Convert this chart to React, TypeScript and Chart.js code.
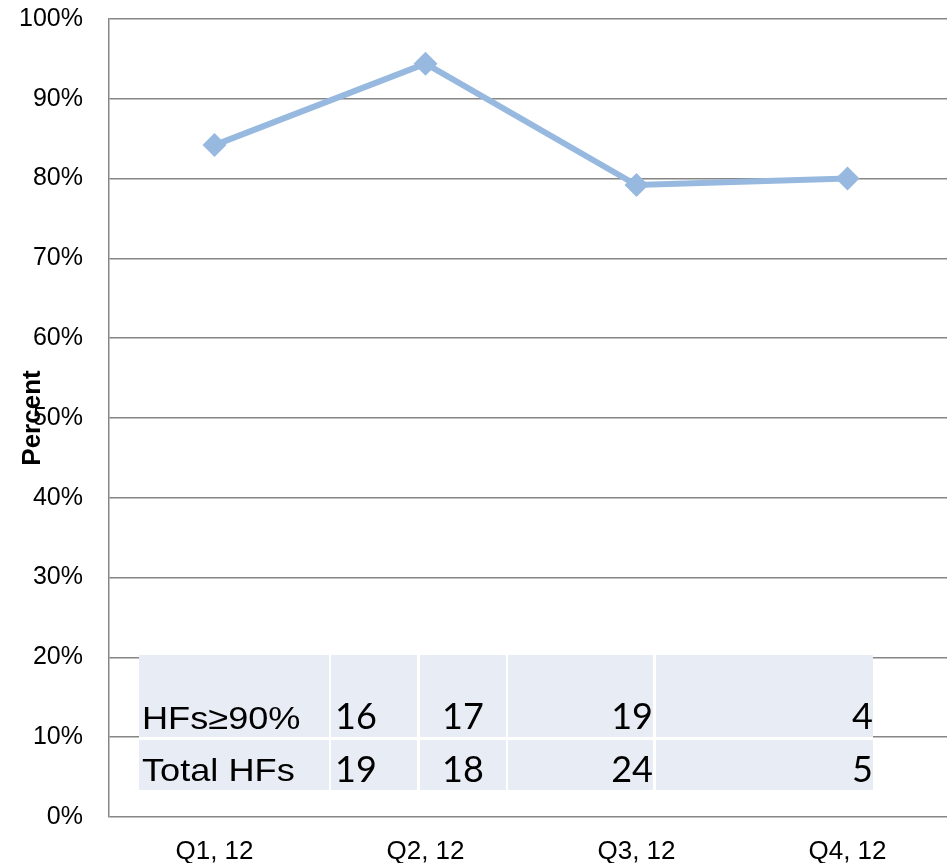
import React, { useEffect, useRef } from "react";
import { Chart, registerables } from "chart.js";

Chart.register(...registerables);

const categories = ["Q1, 12", "Q2, 12", "Q3, 12", "Q4, 12"];
const percentValues = [84.2, 94.4, 79.2, 80.0];
const rowLabels = ["HFs≥90%", "Total HFs"];
const hfsAbove90 = [16, 17, 19, 4];
const totalHfs = [19, 18, 24, 5];
const yTickValues = [0, 10, 20, 30, 40, 50, 60, 70, 80, 90, 100];

const LINE_COLOR = "#97B9E0";
const GRID_COLOR = "#858585";
const TABLE_BG = "#E8ECF4";

// table layout (pixels on canvas)
const TABLE_COLS: { x0: number; x1: number; align: "left" | "center" | "right" }[] = [
  { x0: 139, x1: 329, align: "left" },
  { x0: 331, x1: 417, align: "left" },
  { x0: 420, x1: 506, align: "center" },
  { x0: 508, x1: 653, align: "right" },
  { x0: 656, x1: 873, align: "right" },
];
const TABLE_ROWS = [
  { y0: 655, y1: 737, labelBase: 729, numBase: 729 },
  { y0: 740, y1: 790, labelBase: 781, numBase: 782 },
];

const tablePlugin = {
  id: "dataTable",
  afterDatasetsDraw(chart: any) {
    const ctx = chart.ctx as CanvasRenderingContext2D;
    ctx.save();
    const rowsData = [hfsAbove90, totalHfs];
    // white backdrop so gaps between cells are white
    const tx0 = TABLE_COLS[0].x0;
    const tx1 = TABLE_COLS[TABLE_COLS.length - 1].x1;
    const ty0 = TABLE_ROWS[0].y0;
    const ty1 = TABLE_ROWS[TABLE_ROWS.length - 1].y1;
    ctx.fillStyle = "#fff";
    ctx.fillRect(tx0, ty0, tx1 - tx0, ty1 - ty0);
    TABLE_ROWS.forEach((row, ri) => {
      TABLE_COLS.forEach((col) => {
        ctx.fillStyle = TABLE_BG;
        ctx.fillRect(col.x0, row.y0, col.x1 - col.x0, row.y1 - row.y0);
      });
      // label (slightly stretched horizontally like the original)
      ctx.fillStyle = "#000";
      ctx.font = "32px 'Liberation Sans', Arial, sans-serif";
      ctx.textAlign = "left";
      ctx.textBaseline = "alphabetic";
      ctx.save();
      ctx.translate(TABLE_COLS[0].x0 + 3, row.labelBase);
      ctx.scale(1.13, 1);
      ctx.fillText(rowLabels[ri], 0, 0);
      ctx.restore();
      ctx.font = "36px Lato, 'Noto Sans', sans-serif";
      rowsData[ri].forEach((v, ci) => {
        const col = TABLE_COLS[ci + 1];
        let x = col.x0 + 4;
        if (col.align === "center") x = (col.x0 + col.x1) / 2;
        if (col.align === "right") x = col.x1;
        ctx.textAlign = col.align;
        ctx.fillText(String(v), x, row.numBase);
      });
    });
    ctx.restore();
  },
};

export default function App() {
  const canvasRef = useRef<HTMLCanvasElement | null>(null);

  useEffect(() => {
    if (!canvasRef.current) return;
    const chart = new Chart(canvasRef.current, {
      type: "line",
      data: {
        labels: categories,
        datasets: [
          {
            label: "Percent",
            data: percentValues,
            borderColor: LINE_COLOR,
            backgroundColor: LINE_COLOR,
            borderWidth: 6,
            pointStyle: "rectRot",
            pointRadius: 12,
            pointHoverRadius: 12,
            pointBackgroundColor: LINE_COLOR,
            pointBorderColor: LINE_COLOR,
            pointBorderWidth: 0,
            tension: 0,
            fill: false,
          },
        ],
      },
      options: {
        animation: false,
        responsive: false,
        maintainAspectRatio: false,
        layout: { autoPadding: false, padding: { top: 19, right: 0, left: 0, bottom: 0 } },
        plugins: {
          legend: { display: false },
          tooltip: { enabled: false },
          title: { display: false },
        },
        scales: {
          x: {
            type: "category",
            offset: true,
            grid: { display: false, drawTicks: false },
            border: { display: false },
            ticks: {
              color: "#000",
              padding: 19,
              font: { family: "'Liberation Sans', Arial, sans-serif", size: 26 },
              maxRotation: 0,
            },
            afterFit: (scale: any) => {
              scale.height = 46;
              scale.paddingLeft = 0;
              scale.paddingRight = 0;
            },
          },
          y: {
            min: 0,
            max: 100,
            afterBuildTicks: (scale: any) => {
              scale.ticks = yTickValues.map((v) => ({ value: v }));
            },
            grid: { color: GRID_COLOR, lineWidth: 1.5, drawTicks: false },
            border: { display: true, color: GRID_COLOR, width: 1.5 },
            ticks: {
              color: "#000",
              padding: 26,
              font: { family: "'Liberation Sans', Arial, sans-serif", size: 25 },
              callback: (v: any) => `${v}%`,
            },
            title: {
              display: true,
              text: "Percent",
              color: "#000",
              font: { family: "'Liberation Sans', Arial, sans-serif", size: 26, weight: "bold" },
              padding: { top: 17, bottom: 0 },
            },
            afterFit: (scale: any) => {
              scale.width = 109;
              scale.paddingTop = 0;
              scale.paddingBottom = 0;
            },
          },
        },
      },
      plugins: [tablePlugin],
    } as any);
    return () => chart.destroy();
  }, []);

  return (
    <div style={{ position: "fixed", left: 0, top: 0, width: 947, height: 863, background: "#fff", overflow: "hidden" }}>
      <canvas ref={canvasRef} width={953} height={863} style={{ display: "block" }} />
    </div>
  );
}
